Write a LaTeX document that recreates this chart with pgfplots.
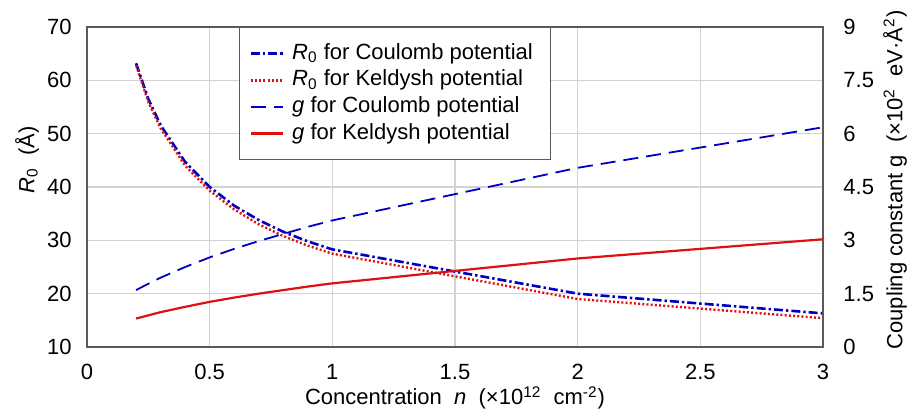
\documentclass[border=0pt]{standalone}
\usepackage{fontspec}
\setmainfont{Liberation Sans}
\usepackage{pgfplots}
\usepackage{pgfplotstable}
\pgfplotsset{compat=1.18}
\usetikzlibrary{calc}

\definecolor{cblue}{HTML}{0000C0}
\definecolor{cred}{HTML}{E01010}
\definecolor{gridgrey}{HTML}{D2D2D2}
\definecolor{framegrey}{HTML}{5A5A5A}

% R0 in angstrom
\pgfplotstableread{
n    R0C   R0K
0.20 63.2  62.8
0.25 56.5  55.9
0.30 51.6  51.0
0.40 44.7  44.0
0.50 40.0  39.3
0.60 36.5  35.8
0.70 33.8  33.0
0.80 31.6  30.8
0.90 29.8  29.0
1.00 28.3  27.5
2.00 20.0  19.0
3.00 16.3  15.4
}\rzero

% coupling constant g (x10^2 eV A^2)
\pgfplotstableread{
n    gC    gK
0.20 1.60  0.80
0.25 1.78  0.89
0.30 1.95  0.98
0.40 2.25  1.13
0.50 2.52  1.27
0.60 2.76  1.39
0.70 2.98  1.50
0.80 3.18  1.60
0.90 3.38  1.70
1.00 3.56  1.79
2.00 5.04  2.49
3.00 6.18  3.03
}\gconst

\tikzset{
  r0c/.style={cblue, line width=1.3pt, dash pattern=on 4.5pt off 1.5pt on 1.2pt off 1.5pt},
  r0k/.style={cred, line width=1.2pt, dash pattern=on 1pt off 1.1pt},
  gc/.style={cblue, line width=0.9pt, dash pattern=on 7.5pt off 4pt},
  gk/.style={cred, line width=1.1pt},
}

\pgfplotsset{
  base/.style={
    scale only axis, width=368pt, height=160pt,
    xmin=0, xmax=3,
    axis line style={framegrey, line width=0.6pt},
    major tick length=0pt,
    /pgf/number format/assume math mode=true,
    tick label style={font=\fontsize{11}{13}\selectfont, text=black, inner sep=0pt},
    label style={font=\fontsize{11}{13}\selectfont},
  }
}

\begin{document}
\fontsize{11}{13}\selectfont
\begin{tikzpicture}
\begin{axis}[base, name=main,
  ymin=10, ymax=70, ytick={10,20,30,40,50,60,70},
  xtick={0,0.5,1,1.5,2,2.5,3},
  xticklabels={0,0.5,1,1.5,2,2.5,3},
  grid=major, grid style={gridgrey, line width=0.6pt},
  xticklabel style={anchor=base, yshift=-16.5pt},
  yticklabel style={anchor=east, xshift=-7.5pt},
  xlabel={Concentration\ \ \textit{n}\ \ (×10\textsuperscript{12}\ \ cm\textsuperscript{-2})},
  xlabel style={at={(axis description cs:0.5,-0.159)}, anchor=center},
  ylabel={\textit{R}\textsubscript{0}\ \ (Å)},
  ylabel style={at={(axis description cs:-0.0815,0.584)}, anchor=center},
]
\addplot[r0c] table[x=n, y=R0C] {\rzero};
\addplot[r0k] table[x=n, y=R0K] {\rzero};
\end{axis}

\begin{axis}[base,
  hide x axis,
  axis y line*=right,
  ymin=0, ymax=9, ytick={0,1.5,3,4.5,6,7.5,9},
  yticklabels={0,1.5,3,4.5,6,7.5,9},
  yticklabel style={anchor=west, xshift=10pt},
  ylabel={Coupling constant g\ \ (×10\textsuperscript{2}\ \ eV·Å\textsuperscript{2})},
  ylabel style={at={(axis description cs:1.0978,0.522)}, anchor=center},
  legend cell align=left,
  legend image code/.code={\draw[#1] (0pt,0pt) -- (16pt,0pt);},
  legend style={at={(axis description cs:0.2065,1)}, anchor=north west,
    draw=framegrey, line width=0.6pt, fill=white,
    inner xsep=5pt, inner ysep=6.4pt, row sep=0pt,
    font=\fontsize{11}{13}\selectfont,
    nodes={text height=8pt, text depth=2.5pt, inner ysep=1.4pt, inner xsep=4pt}},
]
\addlegendimage{r0c}
\addlegendentry{\textit{R}\textsubscript{0} for Coulomb potential}
\addlegendimage{r0k}
\addlegendentry{\textit{R}\textsubscript{0} for Keldysh potential}
\addplot[gc] table[x=n, y=gC] {\gconst};
\addlegendentry{\textit{g} for Coulomb potential}
\addplot[gk] table[x=n, y=gK] {\gconst};
\addlegendentry{\textit{g} for Keldysh potential}
\end{axis}

\pgfresetboundingbox
\path ($(main.south west)+(-43.5pt,-31.5pt)$) rectangle ($(main.north east)+(42pt,13.5pt)$);
\end{tikzpicture}
\end{document}
